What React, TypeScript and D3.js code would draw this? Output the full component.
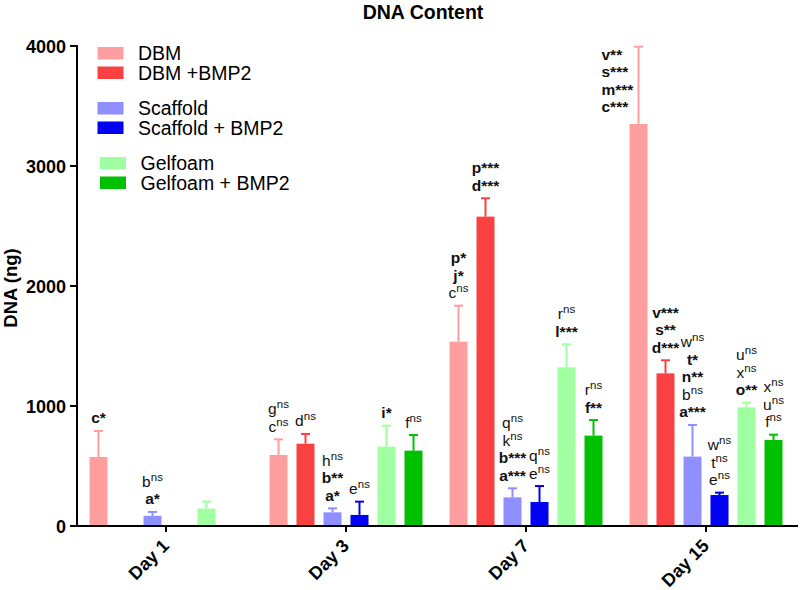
import React from "react";
import * as d3 from "d3";

const days = ["Day 1", "Day 3", "Day 7", "Day 15"];
const seriesNames = ["DBM", "DBM +BMP2", "Scaffold", "Scaffold + BMP2", "Gelfoam", "Gelfoam + BMP2"];
const seriesColors = ["#FF9E9E", "#F94141", "#8F8FFF", "#0000F2", "#A0FFA0", "#00C000"];

// mean values per series per day; null = no bar
const dbm = [575, 592, 1536, 3350];
const dbmBmp2 = [null, 686, 2578, 1272];
const scaffold = [85, 114, 239, 578];
const scaffoldBmp2 = [null, 92, 200, 258];
const gelfoam = [145, 661, 1322, 989];
const gelfoamBmp2 = [null, 628, 753, 717];

// upper error bar ends
const dbmErr = [792, 722, 1836, 3994];
const dbmBmp2Err = [null, 767, 2731, 1381];
const scaffoldErr = [117, 147, 314, 842];
const scaffoldBmp2Err = [null, 203, 333, 278];
const gelfoamErr = [203, 836, 1514, 1028];
const gelfoamBmp2Err = [null, 758, 883, 761];

// annotations (top to bottom); "x^ns" => superscript ns, otherwise bold
const dbmNotes = [["c*"], ["g^ns", "c^ns"], ["p*", "j*", "c^ns"], ["v**", "s***", "m***", "c***"]];
const dbmBmp2Notes = [[], ["d^ns"], ["p***", "d***"], ["v***", "s**", "d***"]];
const scaffoldNotes = [["b^ns", "a*"], ["h^ns", "b**", "a*"], ["q^ns", "k^ns", "b***", "a***"], ["w^ns", "t*", "n**", "b^ns", "a***"]];
const scaffoldBmp2Notes = [[], ["e^ns"], ["q^ns", "e^ns"], ["w^ns", "t^ns", "e^ns"]];
const gelfoamNotes = [[], ["i*"], ["r^ns", "l***"], ["u^ns", "x^ns", "o**"]];
const gelfoamBmp2Notes = [[], ["f^ns"], ["r^ns", "f**"], ["x^ns", "u^ns", "f^ns"]];

const yTicks = [0, 1000, 2000, 3000, 4000];

const means = [dbm, dbmBmp2, scaffold, scaffoldBmp2, gelfoam, gelfoamBmp2];
const errs = [dbmErr, dbmBmp2Err, scaffoldErr, scaffoldBmp2Err, gelfoamErr, gelfoamBmp2Err];
const notes = [dbmNotes, dbmBmp2Notes, scaffoldNotes, scaffoldBmp2Notes, gelfoamNotes, gelfoamBmp2Notes];

const FONT = "Liberation Sans, Arial, Helvetica, sans-serif";

function Note({ s, x, y, anchor }: { s: string; x: number; y: number; anchor: string }) {
  const ns = s.endsWith("^ns");
  const letter = ns ? s.slice(0, -3) : s;
  return (
    <text x={x} y={y} textAnchor={anchor} fontFamily={FONT} fontSize={15.5} fontWeight={ns ? "normal" : "bold"} fill="#111">
      {letter}
      {ns && (
        <tspan fontSize={11.5} dy={-6}>
          ns
        </tspan>
      )}
    </text>
  );
}

export default function App() {
  const W = 800;
  const H = 590;
  const x0 = 77;
  const y = d3.scaleLinear().domain([0, 4000]).range([526, 46]);
  const xDay = d3.scaleBand<string>().domain(days).range([76, 796]);
  const xSeries = d3
    .scaleBand<string>()
    .domain(seriesNames)
    .range([0, xDay.bandwidth()])
    .paddingInner(1 / 3)
    .paddingOuter(0.5);
  const bw = xSeries.bandwidth();
  const lineH = 17.5;

  return (
    <svg width={W} height={H} style={{ position: "absolute", left: 0, top: 0, background: "#fff" }}>
      <text x={423} y={19} textAnchor="middle" fontFamily={FONT} fontSize={19.5} fontWeight="bold">
        DNA Content
      </text>

      {/* bars */}
      {seriesNames.map((name, si) =>
        days.map((day, di) => {
          const v = means[si][di];
          if (v == null) return null;
          const e = errs[si][di] as number;
          const bx = (xDay(day) as number) + (xSeries(name) as number);
          const cx = bx + bw / 2;
          const col = seriesColors[si];
          return (
            <g key={name + day}>
              <rect x={bx} y={y(v)} width={bw} height={y(0) - y(v)} fill={col} />
              <line x1={cx} x2={cx} y1={y(v)} y2={y(e)} stroke={col} strokeWidth={2} />
              <line x1={cx - 4.5} x2={cx + 4.5} y1={y(e)} y2={y(e)} stroke={col} strokeWidth={2} />
            </g>
          );
        })
      )}

      {/* annotations */}
      {seriesNames.map((name, si) =>
        days.map((day, di) => {
          const list = notes[si][di];
          if (!list.length) return null;
          const v = means[si][di] as number;
          const e = errs[si][di] as number;
          const bx = (xDay(day) as number) + (xSeries(name) as number);
          const cx = bx + bw / 2;
          const beside = e > 3800;
          const n = list.length;
          return (
            <g key={"n" + name + day}>
              {list.map((s, k) => {
                if (beside) {
                  return <Note key={k} s={s} x={bx - 28} y={y(v) - 12 - (n - 1 - k) * lineH} anchor="start" />;
                }
                return <Note key={k} s={s} x={cx} y={y(e) - 7.5 - (n - 1 - k) * lineH} anchor="middle" />;
              })}
            </g>
          );
        })
      )}

      {/* y axis */}
      <line x1={x0} x2={x0} y1={y(4000) - 1} y2={y(0) + 1} stroke="#000" strokeWidth={2} />
      {yTicks.map((t) => (
        <g key={t}>
          <line x1={x0 - 7} x2={x0} y1={y(t)} y2={y(t)} stroke="#000" strokeWidth={2} />
          <text x={x0 - 11} y={y(t) + 6.5} textAnchor="end" fontFamily={FONT} fontSize={18} fontWeight="bold">
            {t}
          </text>
        </g>
      ))}
      <text
        transform={`translate(17,${(y(0) + y(4000)) / 2 + 2}) rotate(-90)`}
        textAnchor="middle"
        fontFamily={FONT}
        fontSize={18.5}
        fontWeight="bold"
      >
        DNA (ng)
      </text>

      {/* x axis */}
      <line x1={x0 - 1} x2={798} y1={y(0)} y2={y(0)} stroke="#000" strokeWidth={2} />
      {days.map((d) => {
        const cx = (xDay(d) as number) + xDay.bandwidth() / 2;
        return (
          <g key={d}>
            <line x1={cx} x2={cx} y1={y(0)} y2={y(0) + 6} stroke="#000" strokeWidth={2} />
            <text
              transform={`translate(${cx + 4},${y(0) + 21}) rotate(-45)`}
              textAnchor="end"
              fontFamily={FONT}
              fontSize={18}
              fontWeight="bold"
            >
              {d}
            </text>
          </g>
        );
      })}

      {/* legend */}
      {seriesNames.map((name, i) => {
        const group = Math.floor(i / 2);
        const yy = 47 + group * 55 + (i % 2) * 19.5;
        const dx = group === 2 ? 2.5 : 0;
        return (
          <g key={"l" + name}>
            <rect x={97.5 + dx} y={yy} width={26} height={12.5} fill={seriesColors[i]} />
            <text x={138 + dx} y={yy + 13} fontFamily={FONT} fontSize={19.5}>
              {name}
            </text>
          </g>
        );
      })}
    </svg>
  );
}
